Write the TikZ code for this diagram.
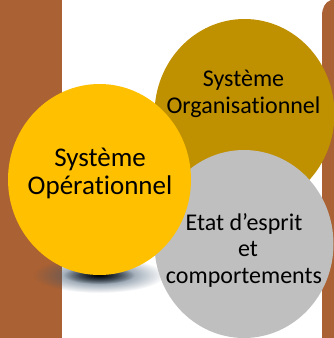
\documentclass[tikz,border=0pt]{standalone}
\usepackage{fontspec}
\setmainfont[Ligatures=CommonOff]{Carlito}
\usetikzlibrary{shapes.geometric,fadings}
\definecolor{brownbar}{HTML}{AA6133}
\definecolor{goldc}{HTML}{BF9000}
\definecolor{yellowc}{HTML}{FFC000}
\definecolor{greyc}{HTML}{BFBFBF}
\definecolor{shadowc}{HTML}{3C556E}
\tikzfading[name=shadowfade, inner color=transparent!0, middle color=transparent!35, outer color=transparent!100]
\tikzfading[name=corefade, inner color=transparent!0, middle color=transparent!60, outer color=transparent!100]
\tikzset{
  blob/.style={ellipse, draw=none, inner sep=0pt},
  lab/.style={inner sep=0pt, align=center, text=black, anchor=base},
}
\begin{document}
\begin{tikzpicture}[x=1pt,y=-1pt]
\useasboundingbox (0,0) rectangle (334,338);
\fill[brownbar] (0,0) rectangle (62,338);
\fill[brownbar] (322,338) -- (322,16) .. controls (322,8) and (325,2) .. (331,0) -- (334,0) -- (334,338) -- cycle;
\fill[shadowc, path fading=shadowfade] (99,275) ellipse [x radius=66, y radius=18];
\fill[black, path fading=corefade] (99,275) ellipse [x radius=36, y radius=9];
\node[blob, fill=goldc, minimum width=180pt, minimum height=190pt] (org) at (244.5,114) {};
\node[blob, fill=greyc, minimum width=179pt, minimum height=188pt] (etat) at (244,244) {};
\node[blob, fill=yellowc, minimum width=183pt, minimum height=191pt] (ope) at (99.5,179.5) {};
\node[lab, font=\fontsize{27}{28}\selectfont] (opetxt) at (100,194) {Système\\Opérationnel};
\node[lab, font=\fontsize{24}{27}\selectfont] (orgtxt) at (243.5,113) {Système\\Organisationnel};
\node[lab, font=\fontsize{24}{26.5}\selectfont] (etattxt) at (244,283) {Etat d’esprit\\\hspace*{8pt}et\\comportements};
\end{tikzpicture}
\end{document}
